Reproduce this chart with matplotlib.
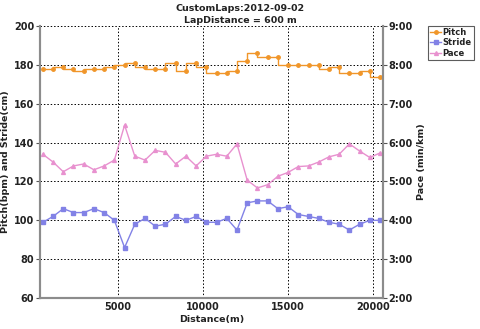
import matplotlib
matplotlib.use("Agg")
import matplotlib.pyplot as plt
from matplotlib.ticker import FixedLocator, FuncFormatter

# ---- data ----
lap_distance = 600
distance = [lap_distance * (i + 1) for i in range(34)]
pitch = [178, 178, 179, 178, 177, 178, 178, 179, 180, 181, 179, 178, 178, 181, 177, 181,
         179, 176, 176, 177, 182, 186, 184, 184, 180, 180, 180, 180, 178, 179, 176, 176, 177, 174]
stride = [99, 102, 106, 104, 104, 106, 104, 100, 86, 98, 101, 97, 98, 102, 100, 102,
          99, 99, 101, 95, 109, 110, 110, 106, 107, 103, 102, 101, 99, 98, 95, 98, 100, 100]
# pace in seconds per km
pace_sec = [342, 330, 315, 324, 327, 318, 324, 333, 387, 339, 333, 348, 345, 327, 339, 324,
            339, 342, 339, 358, 302, 290, 295, 308, 314, 323, 324, 330, 338, 342, 358, 347, 337, 344]
x_ticks = [5000, 10000, 15000, 20000]
left_ticks = [60, 80, 100, 120, 140, 160, 180, 200]
pace_ticks = [2, 3, 4, 5, 6, 7, 8, 9]

pace_min = [s / 60.0 for s in pace_sec]

c_pitch = "#f0962a"
c_stride = "#8282e6"
c_pace = "#e891cf"
spine_col = "#8c8c8c"
txt_col = "#222222"

plt.rcParams['font.family'] = ['DejaVu Sans']
plt.rcParams['font.weight'] = 'bold'

fig = plt.figure(figsize=(4.8, 3.29), dpi=100)
ax = fig.add_axes([0.083, 0.094, 0.715, 0.827])
ax2 = ax.twinx()

lp, = ax.plot(distance, pitch, color=c_pitch, drawstyle='steps-pre', lw=1.0,
              marker='o', ms=2.5, label='Pitch')
ls, = ax.plot(distance, stride, color=c_stride, lw=1.0, marker='s', ms=3.2, label='Stride')
la, = ax2.plot(distance, pace_min, color=c_pace, lw=1.0, marker='^', ms=2.8, label='Pace')

ax.set_xlim(424, 20576)
ax.set_ylim(60, 200)
ax2.set_ylim(2, 9)

ax.xaxis.set_major_locator(FixedLocator(x_ticks))
ax.yaxis.set_major_locator(FixedLocator(left_ticks))
ax2.yaxis.set_major_locator(FixedLocator(pace_ticks))
ax2.yaxis.set_major_formatter(FuncFormatter(lambda v, p: f"{int(v)}:00"))

ax.grid(True, color='black', linestyle=(0, (1.5, 2)), linewidth=0.7)
ax.set_axisbelow(True)

for a in (ax, ax2):
    a.spines['top'].set_visible(False)
    for s in ('left', 'right', 'bottom'):
        a.spines[s].set_color(spine_col)
        a.spines[s].set_linewidth(1.5)
    a.tick_params(labelsize=7, length=3, width=0.8, color='#555555', pad=1,
                  labelcolor=txt_col)

ax.tick_params(axis='x', length=0, pad=3)

ax.set_xlabel("Distance(m)", fontsize=6.8, fontweight='bold', labelpad=2, color=txt_col)
ax.set_ylabel("Pitch(bpm) and Stride(cm)", fontsize=6.8, fontweight='bold', labelpad=3,
              color=txt_col)
ax2.set_ylabel("Pace (min/km)", fontsize=6.8, fontweight='bold', labelpad=3, color=txt_col)

fig.text(0.5, 0.974, "CustomLaps:2012-09-02", ha='center', va='center',
         fontsize=6.8, fontweight='bold', color=txt_col)
fig.text(0.5, 0.938, "LapDistance = 600 m", ha='center', va='center',
         fontsize=6.8, fontweight='bold', color=txt_col)

leg = fig.legend(handles=[lp, ls, la], loc='upper left', bbox_to_anchor=(0.892, 0.922),
                 fontsize=6, frameon=True, fancybox=False, edgecolor='#333333',
                 handlelength=1.3, handletextpad=0.2, borderpad=0.25, labelspacing=0.2,
                 borderaxespad=0)
leg.get_frame().set_linewidth(0.8)
for t in leg.get_texts():
    t.set_fontweight('bold')
    t.set_color(txt_col)

fig.savefig("out.png", dpi=100)
